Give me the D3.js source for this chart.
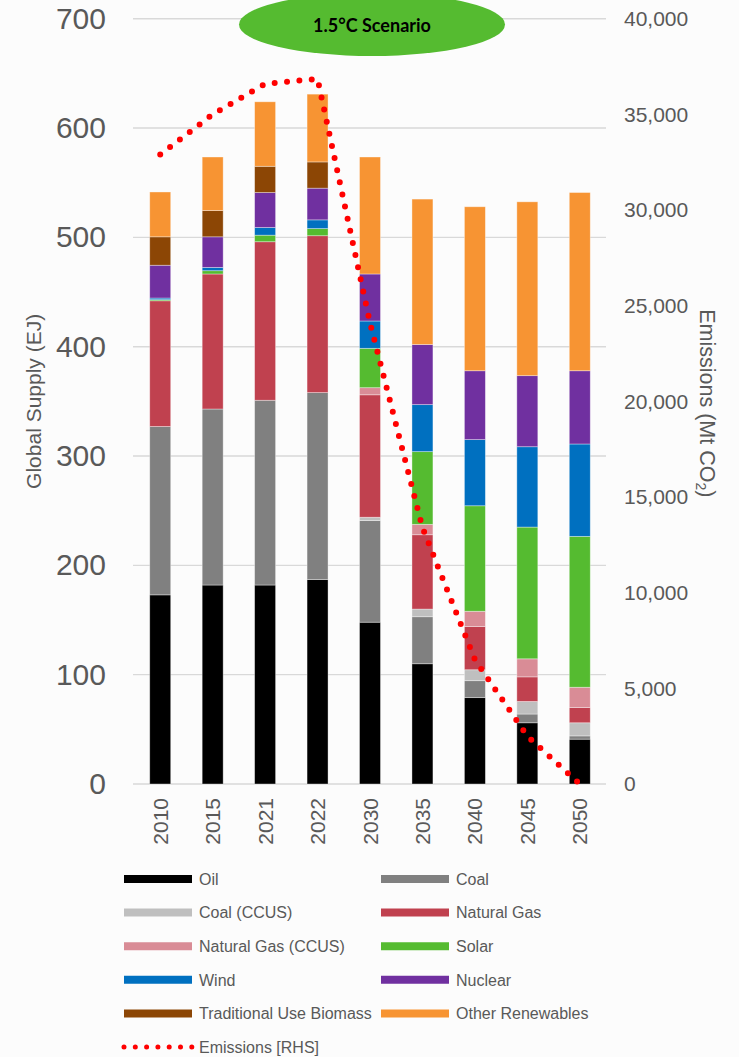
<!DOCTYPE html>
<html>
<head>
<meta charset="utf-8">
<script src="https://cdn.jsdelivr.net/npm/d3@7"></script>
<style>
  html, body { margin: 0; padding: 0; background: #fcfcfc; }
  svg { display: block; }
  text { font-family: "Liberation Sans", Arial, sans-serif; fill: #595959; }
</style>
</head>
<body>
<svg id="chart" width="739" height="1057"></svg>
<script>
// ---- Data ----
const categories = ["2010", "2015", "2021", "2022", "2030", "2035", "2040", "2045", "2050"];
const oil        = [173, 182, 182, 187, 148, 110, 79, 56, 41];
const coal       = [154, 161, 169, 171, 93, 43, 15.5, 8, 3];
const coalCCUS   = [0, 0, 0, 0, 3, 7, 10, 11.5, 12];
const naturalGas = [115, 123.5, 145, 143.5, 112, 68, 39.5, 22.5, 14];
const gasCCUS    = [0, 0, 0, 0, 6.5, 9.5, 14, 16.5, 18.5];
const solar      = [1, 3, 6, 6.5, 36, 66.5, 96.5, 120.5, 138];
const wind       = [1.5, 3, 7, 8, 25, 43, 60.5, 73.5, 84.5];
const nuclear    = [30, 28, 32, 29, 43, 55, 63, 65, 67];
const biomass    = [26, 24, 24, 24, 0, 0, 0, 0, 0];
const otherRenew = [41, 49, 59, 62, 107, 133, 150, 159, 163];
const emissions  = [32900, 35000, 36600, 36850, 24100, 13400, 6500, 2500, 0];

const seriesNames = ["Oil", "Coal", "Coal (CCUS)", "Natural Gas", "Natural Gas (CCUS)", "Solar",
                     "Wind", "Nuclear", "Traditional Use Biomass", "Other Renewables"];
const seriesValues = [oil, coal, coalCCUS, naturalGas, gasCCUS, solar, wind, nuclear, biomass, otherRenew];
const seriesColors = ["#000000", "#808080", "#bfbfbf", "#c0414f", "#d98c96", "#55bb30",
                      "#0070c0", "#7030a0", "#8c4605", "#f79433"];
const leftTicks  = [0, 100, 200, 300, 400, 500, 600, 700];
const rightTicks = [0, 5000, 10000, 15000, 20000, 25000, 30000, 35000, 40000];
const scenarioLabel = "1.5°C Scenario";

// ---- Build ----
const svg = d3.select("#chart");
const plot = { left: 134, right: 606, top: 18.7, bottom: 784 };

const x = d3.scaleBand().domain(categories).range([plot.left, plot.right]).paddingInner(0.6).paddingOuter(0.3);
const yL = d3.scaleLinear().domain([0, 700]).range([plot.bottom, plot.top]);
const yR = d3.scaleLinear().domain([0, 40000]).range([plot.bottom, plot.top]);

// table for stack
const table = categories.map((c, i) => {
  const row = { cat: c };
  seriesNames.forEach((n, k) => row[n] = seriesValues[k][i]);
  return row;
});
const stacked = d3.stack().keys(seriesNames)(table);

// gridlines
svg.append("g").selectAll("line").data(leftTicks).join("line")
  .attr("x1", plot.left - 1).attr("x2", plot.right)
  .attr("y1", d => yL(d)).attr("y2", d => yL(d))
  .attr("stroke", "#d9d9d9").attr("stroke-width", 1.4);

// left axis labels
const gL = svg.append("g").attr("transform", `translate(${plot.left},0)`)
  .call(d3.axisLeft(yL).tickValues(leftTicks).tickSize(0).tickPadding(28).tickFormat(d3.format("d")));
gL.select(".domain").remove();
gL.selectAll("text").style("font-size", "30px").attr("fill", "#595959")
  .style("font-family", "'Liberation Sans', Arial, sans-serif");

// right axis labels
const gR = svg.append("g").attr("transform", `translate(${plot.right},0)`)
  .call(d3.axisRight(yR).tickValues(rightTicks).tickSize(0).tickPadding(18).tickFormat(d3.format(",")));
gR.select(".domain").remove();
gR.selectAll("text").style("font-size", "21px").attr("fill", "#595959")
  .style("font-family", "'Liberation Sans', Arial, sans-serif");

// x axis labels (rotated)
const gX = svg.append("g").attr("transform", `translate(0,${plot.bottom})`)
  .call(d3.axisBottom(x).tickSize(0));
gX.select(".domain").remove();
gX.selectAll("text")
  .style("font-size", "21px").attr("fill", "#595959")
  .style("font-family", "'Liberation Sans', Arial, sans-serif")
  .attr("text-anchor", "end")
  .attr("transform", "rotate(-90)")
  .attr("x", -14).attr("y", 0).attr("dy", "0.36em");

// bars
svg.append("g").selectAll("g").data(stacked).join("g")
  .attr("fill", (d, i) => seriesColors[i])
  .selectAll("rect").data(d => d.filter(s => s[1] - s[0] > 0)).join("rect")
  .attr("x", d => x(d.data.cat))
  .attr("width", x.bandwidth())
  .attr("y", d => yL(d[1]))
  .attr("height", d => yL(d[0]) - yL(d[1]))
  .attr("stroke", "rgba(255,255,255,0.45)")
  .attr("stroke-width", 0.8);

// emissions dotted line
const line = d3.line().x((d, i) => x(categories[i]) + x.bandwidth() / 2).y(d => yR(d));
svg.append("path").datum(emissions)
  .attr("d", line)
  .attr("fill", "none")
  .attr("stroke", "#ff0000")
  .attr("stroke-width", 6)
  .attr("stroke-linecap", "round")
  .attr("stroke-dasharray", "0 12.4");

// axis titles
svg.append("text")
  .attr("transform", `translate(41,${(plot.top + plot.bottom) / 2}) rotate(-90)`)
  .attr("text-anchor", "middle")
  .style("font-size", "21px")
  .text("Global Supply (EJ)");

const rt = svg.append("text")
  .attr("transform", `translate(700,${(plot.top + plot.bottom) / 2 + 2}) rotate(90)`)
  .attr("text-anchor", "middle")
  .style("font-size", "21.5px");
rt.append("tspan").text("Emissions (Mt CO");
rt.append("tspan").text("2").style("font-size", "14px").attr("dy", 4);
rt.append("tspan").text(")").attr("dy", -4);

// scenario ellipse
svg.append("ellipse")
  .attr("cx", 372).attr("cy", 24.5).attr("rx", 133).attr("ry", 31.5)
  .attr("fill", "#55bb30");
svg.append("text")
  .attr("x", 372).attr("y", 26).attr("dy", "0.35em")
  .attr("text-anchor", "middle")
  .style("font-family", "Lato, 'Open Sans', sans-serif")
  .style("font-weight", "bold")
  .style("font-size", "18px")
  .style("fill", "#000")
  .text(scenarioLabel);

// legend
const legend = svg.append("g");
const rowY0 = 879, rowStep = 33.6;
const colX = [124, 381];
seriesNames.forEach((n, i) => {
  const cx = colX[i % 2];
  const cy = rowY0 + Math.floor(i / 2) * rowStep;
  legend.append("line")
    .attr("x1", cx).attr("x2", cx + 68).attr("y1", cy).attr("y2", cy)
    .attr("stroke", seriesColors[i]).attr("stroke-width", 8);
  legend.append("text")
    .attr("x", cx + 75).attr("y", cy).attr("dy", "0.36em")
    .style("font-size", "16px")
    .text(n);
});
const ey = rowY0 + 5 * rowStep;
legend.append("line")
  .attr("x1", 124).attr("x2", 192).attr("y1", ey).attr("y2", ey)
  .attr("stroke", "#ff0000").attr("stroke-width", 5)
  .attr("stroke-linecap", "round").attr("stroke-dasharray", "0 11.3");
legend.append("text")
  .attr("x", 199).attr("y", ey).attr("dy", "0.36em")
  .style("font-size", "16px")
  .text("Emissions [RHS]");
</script>
</body>
</html>
